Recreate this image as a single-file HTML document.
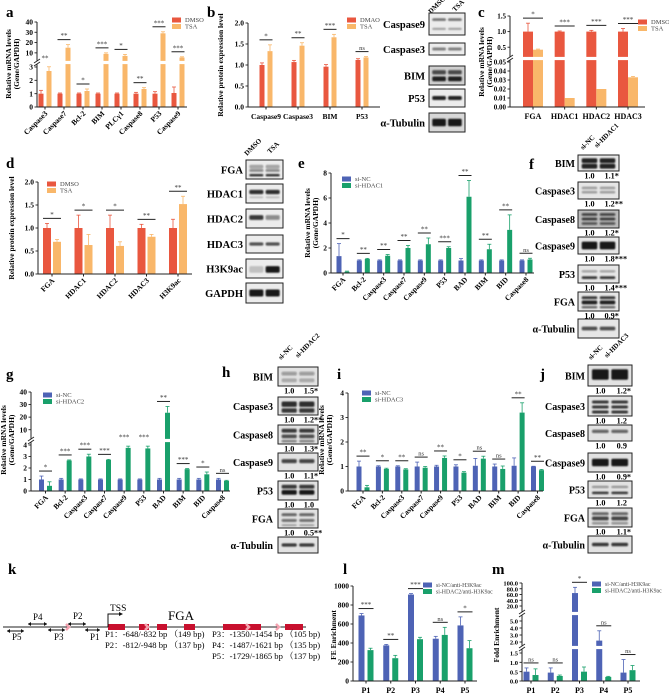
<!DOCTYPE html>
<html><head><meta charset="utf-8"><style>
html,body{margin:0;padding:0;background:#fff;}
svg{display:block;font-family:"Liberation Serif",serif;}
</style></head><body>
<svg id="fig" width="669" height="696" viewBox="0 0 669 696" xmlns="http://www.w3.org/2000/svg"><defs><filter id="bl" x="-20%" y="-50%" width="140%" height="200%"><feGaussianBlur stdDeviation="0.9"/></filter></defs></svg>
<script>
// ---------- data ----------
const aCats=["Caspase3","Caspase7","Bcl-2","BIM","PLCγ1","Caspase8","P53","Caspase9"];
const aDMSO=[1,1,1,1,1,1,1,1.05];
const aTSA=[2.7,15,1.2,9,7,1.35,29,5.5];
const aErr1=[0.25,0.05,0.05,0.05,0.05,0.1,0.15,0.45];
const aErr2=[0.35,3,0.15,1,1.5,0.1,1.5,0.7];
const aSig=["**","**","*","***","*","**","***","***"];
const aTicks=[0,1,2,3,10,20,30,40];

const bCats=["Caspase9","Caspase3","BIM","P53"];
const bDMSO=[1.0,1.07,0.96,1.12];
const bTSA=[1.33,1.46,1.66,1.18];
const bErr1=[0.05,0.04,0.05,0.03];
const bErr2=[0.15,0.07,0.07,0.02];
const bSig=["*","**","***","ns"];
const bTicks=[0,0.5,1,1.5,2];

const cCats=["FGA","HDAC1","HDAC2","HDAC3"];
const cDMSO=[1,1,1,1];
const cTSA=[0.42,0.01,0.02,0.033];
const cErr1=[0.27,0.02,0.04,0.1];
const cErr2=[0.02,0,0,0.001];
const cSig=["*","***","***","***"];
const cTicks=[0,0.01,0.02,0.03,0.04,0.05,0.5,1,1.5];

const dCats=["FGA","HDAC1","HDAC2","HDAC3","H3K9ac"];
const dDMSO=[1,1,1,1,1];
const dTSA=[0.70,0.63,0.61,0.81,1.52];
const dErr1=[0.1,0.28,0.28,0.08,0.19];
const dErr2=[0.05,0.23,0.09,0.05,0.17];
const dSig=["*","*","*","**","**"];
const dTicks=[0,0.5,1,1.5,2];

const eCats=["FGA","Bcl-2","Caspase3","Caspase7","Caspase9","P53","BAD","BIM","BID","Caspase8"];
const eNC=[1.35,1,1,1,1,1,1,1,1,1];
const eSi=[0.1,1.12,1.38,2.0,2.3,2.0,6.1,1.9,3.45,1.08];
const eErr1=[1.0,0.05,0.05,0.05,0.05,0.05,0.15,0.05,0.05,0.05];
const eErr2=[0.05,0.05,0.1,0.2,0.5,0.1,1.3,0.4,1.2,0.1];
const eSig=["*","**","**","**","**","***","**","**","**","ns"];
const eTicks=[0,2,4,6,8];

const gCats=eCats;
const gNC=[1,1,1,1,1,1,1,1,1,1];
const gSi=[0.45,2.65,3.0,2.7,3.75,3.7,23.5,1.9,1.45,0.88];
const gErr1=[0.3,0.1,0.05,0.05,0.05,0.05,0.1,0.1,0.1,0.1];
const gErr2=[0.35,0.05,0.2,0.05,0.15,0.2,5,0.05,0.2,0.05];
const gSig=["*","***","***","***","***","***","**","***","*","ns"];
const gTicks=[0,1,2,3,4,10,20,30,40];

const iCats=eCats;
const iNC=[1,1,1,1,1,1,1.03,1,1.03,1];
const iSi=[0.15,0.9,0.88,0.95,1.35,0.75,1.32,0.9,3.2,0.85];
const iErr1=[0.22,0.03,0.03,0.18,0.05,0.07,0.3,0.1,0.32,0.01];
const iErr2=[0.08,0.03,0.03,0.05,0.08,0.04,0.1,0.12,0.4,0.03];
const iSig=["**","*","**","ns","**","*","ns","ns","**","**"];
const iTicks=[0,1,2,3,4];

const lCats=["P1","P2","P3","P4","P5"];
const lNC=[690,375,910,445,585];
const lSi=[325,240,440,485,345];
const lErr1=[20,10,10,25,90];
const lErr2=[20,30,20,80,80];
const lSig=["***","**","***","ns","*"];
const lTicks=[0,200,400,600,800,1000];

const mCats=lCats;
const mNC=[0.5,0.45,65,2.2,0.45];
const mSi=[0.32,0.27,0.5,0.22,0.58];
const mErr1=[0.2,0.25,20,1.4,0.7];
const mErr2=[0.33,0.05,0.25,0.03,0.25];
const mSig=["ns","ns","*","ns","ns"];
const mTicks=[0,0.5,1,1.5,2,3,4,5,20,40,60,80,100];

const fRows=["BIM","Caspase3","Caspase8","Caspase9","P53","FGA","α-Tubulin"];
const fVals=["1.1*","1.2**","1.2*","1.8***","1.4***","0.9*"];
const hVals=["1.5*","1.2**","1.3*","1.1*","1.0","0.5**"];
const jVals=["1.2*","1.2","0.9","0.9*","1.2","1.1*"];

// ---------- helpers ----------
const NS="http://www.w3.org/2000/svg";
const svg=document.getElementById('fig');
function el(tag,attrs,parent,txt){const e=document.createElementNS(NS,tag);for(const k in attrs)e.setAttribute(k,attrs[k]);if(txt!==undefined)e.textContent=txt;(parent||svg).appendChild(e);return e;}
const RED="#e9573f",ORG="#f9b76a",BLUE="#4e63b5",GRN="#19a06b";

function makeScale(segs){
  return function(v){
    for(let i=0;i<segs.length;i++){const s=segs[i];
      if(v<=s.d1||i===segs.length-1){
        if(v<s.d0&&i>0){const p=segs[i-1];return p.p1+(v-p.d1)/(s.d0-p.d1)*(s.p0-p.p1);}
        return s.p0+(v-s.d0)/(s.d1-s.d0)*(s.p1-s.p0);}
    }
  };
}

function chart(c){
  const g=el('g',{});
  
  
  const y=makeScale(c.segs);
  const y0=c.segs[0].p0, yTop=c.segs[c.segs.length-1].p1;
  const n=c.cats.length;
  const cx=i=>c.c0+i*(c.c1-c.c0)/(n-1);
  for(let i=0;i<n;i++){
    const pairs=[[c.s1[i],c.e1[i],c.col[0],-1],[c.s2[i],c.e2[i],c.col[1],1]];
    pairs.forEach((p,k)=>{
      const x=p[3]<0?cx(i)-c.gap-c.bw:cx(i)+c.gap;
      const top=y(p[0]);
      const r=el('rect',{x:x,y:top,width:c.bw,height:Math.max(0.5,y0-top),fill:p[2]},g);
      
      
      if(p[1]>0){const ye=y(p[0]+p[1]);
        el('line',{x1:x+c.bw/2,x2:x+c.bw/2,y1:top,y2:ye,stroke:p[2],'stroke-width':0.8},g);
        el('line',{x1:x+c.bw/2-2,x2:x+c.bw/2+2,y1:ye,y2:ye,stroke:p[2],'stroke-width':0.8},g);}
    });
    const hi=Math.min(y(c.s1[i]+c.e1[i]),y(c.s2[i]+c.e2[i]));
    const ly=Math.max(yTop-2,hi-5);
    el('line',{x1:cx(i)-c.gap-c.bw,x2:cx(i)+c.gap+c.bw,y1:ly,y2:ly,stroke:'#222','stroke-width':1},g);
    const s=el('text',{x:cx(i),y:ly-1.5,'text-anchor':'middle','font-size':c.sig[i]==='ns'?6.5:7,fill:'#333'},g,c.sig[i]);
    
    
    if(c.rot){
      const lx=cx(i)+3,lyy=y0+7;
      el('text',{x:lx,y:lyy,'text-anchor':'end','font-size':c.catFs||7.5,'font-weight':'bold',transform:`rotate(-45 ${lx} ${lyy})`},g,c.cats[i]);
    } else {
      el('text',{x:cx(i),y:y0+12,'text-anchor':'middle','font-size':c.catFs||8,'font-weight':'bold'},g,c.cats[i]);
    }
    el('line',{x1:cx(i),x2:cx(i),y1:y0,y2:y0+2.5,stroke:'#222','stroke-width':1},g);
  }
  for(let k=0;k<c.segs.length-1;k++){
    const mid=(c.segs[k].p1+c.segs[k+1].p0)/2;
    el('rect',{x:c.ax-1,y:mid-1.6,width:c.x1-c.ax+2,height:3.2,fill:'#fff'},g);
    el('line',{x1:c.ax-3,x2:c.ax+3,y1:mid+0.5,y2:mid-3.5,stroke:'#222','stroke-width':0.9},g);
    el('line',{x1:c.ax-3,x2:c.ax+3,y1:mid+3.5,y2:mid-0.5,stroke:'#222','stroke-width':0.9},g);
  }
  const ax=el('g',{},g);
  
  
  for(let k=0;k<c.segs.length;k++){
    const s=c.segs[k];
    const lo=k>0?(c.segs[k-1].p1+s.p0)/2-1.6:s.p0;
    const hi=k<c.segs.length-1?(s.p1+c.segs[k+1].p0)/2+1.6:s.p1;
    el('line',{x1:c.ax,x2:c.ax,y1:lo,y2:hi,stroke:'#222','stroke-width':1},ax);
  }
  c.ticks.forEach(t=>{const ty=y(t);
    el('line',{x1:c.ax-2.5,x2:c.ax,y1:ty,y2:ty,stroke:'#222','stroke-width':0.9},ax);
    el('text',{x:c.ax-4,y:ty+2.6,'text-anchor':'end','font-size':c.tickFs||7.5,'font-weight':'bold'},ax,c.fmt?c.fmt(t):String(t));
  });
  const xa=el('line',{x1:c.ax,x2:c.x1,y1:y0,y2:y0,stroke:'#222','stroke-width':1},g);
  
  
  const t=el('text',{x:0,y:0,'text-anchor':'middle','font-size':c.ytFs||7.5,'font-weight':'bold',transform:`translate(${c.yt[0]} ${c.yt[1]}) rotate(-90)`},g);
  
  
  c.ytitle.forEach((line,k)=>{el('tspan',{x:0,dy:k?8:0},t,line);});
  c.leg.names.forEach((nm,k)=>{
    const lg=el('g',{},g);
    
    
    el('rect',{x:c.leg.x,y:c.leg.y+k*6.5-2.5,width:9,height:5,fill:c.col[k]},lg);
    el('text',{x:c.leg.x+13,y:c.leg.y+k*6.5+2.2,'font-size':c.leg.fs||6.5,fill:'#444'},lg,nm);
  });
}

function panelLabel(t,x,y){const e=el('text',{x:x,y:y,'font-size':15,'font-weight':'bold'},svg,t);
  }

// bands: [relY, relHeight, opacity, leftLaneFactor]
function blot(name,label,x,y,w,h,lx,bands,fs,bg){
  const g=el('g',{});
  
  
  el('rect',{x:x,y:y,width:w,height:h,fill:bg||'#ececec'},g);
  const bg2=el('g',{filter:'url(#bl)'},g);
  (bands||[[0.5,0.25,0.85]]).forEach(b=>{
    for(const lane of [0.28,0.72]){
      el('rect',{x:x+w*lane-w*0.19,y:y+h*b[0]-h*b[1]/2,width:w*0.38,height:h*b[1],rx:1.5,fill:'#111',opacity:Math.min(1,b[2]*(lane<0.5?(b[3]||1):1))},bg2);
    }
  });
  el('rect',{x:x,y:y,width:w,height:h,fill:'none',stroke:'#222','stroke-width':1},g);
  el('text',{x:lx,y:y+h/2+4,'text-anchor':'end','font-size':fs||10.5,'font-weight':'bold'},g,label);
}
function valText(name,x,w,y,v2){
  const t=el('text',{x:x+w*0.28,y:y,'text-anchor':'middle','font-size':8.2,'font-weight':'bold'},svg,'1.0');
  
  const t2=el('text',{x:x+w*0.72-3,y:y,'font-size':8.2,'font-weight':'bold'},svg,v2);
  
}
function rotLabel(txt,x,y,fs){el('text',{x:x,y:y,'font-size':fs||7,'font-weight':'bold',transform:`rotate(-45 ${x} ${y})`},svg,txt);}

// ---------- charts ----------
const f1=v=>v.toFixed(1), f2=v=>v.toFixed(2);
panelLabel('a',6,17);
chart({name:'chart-a',cats:aCats,s1:aDMSO,s2:aTSA,e1:aErr1,e2:aErr2,sig:aSig,ticks:aTicks,
  segs:[{d0:0,d1:3,p0:107,p1:67},{d0:5,d1:40,p0:58,p1:22}],ax:37,x1:187,c0:45,c1:178,bw:5,gap:1.5,col:[RED,ORG],rot:true,
  yt:[11,64],ytitle:["Relative mRNA levels","(Gene/GAPDH)"],leg:{x:172,y:20,names:["DMSO","TSA"]}});
panelLabel('b',207,17);
chart({name:'chart-b',cats:bCats,s1:bDMSO,s2:bTSA,e1:bErr1,e2:bErr2,sig:bSig,ticks:bTicks,fmt:f1,
  segs:[{d0:0,d1:2,p0:107,p1:23}],ax:248,x1:380,c0:266,c1:362,bw:5,gap:1.5,col:[RED,ORG],rot:false,catFs:7.5,
  yt:[223,65],ytitle:["Relative protein expression level"],leg:{x:347,y:20,names:["DMAO","TSA"]}});
panelLabel('c',478,17);
chart({name:'chart-c',cats:cCats,s1:cDMSO,s2:cTSA,e1:cErr1,e2:cErr2,sig:cSig,ticks:cTicks,fmt:v=>v<0.1?f2(v):f1(v),tickFs:7,
  segs:[{d0:0,d1:0.05,p0:107,p1:62},{d0:0.25,d1:1.5,p0:55,p1:16}],ax:510,x1:645,c0:533,c1:628,bw:10,gap:0,col:[RED,ORG],rot:false,
  yt:[484,62],ytitle:["Relative mRNA levels","(Gene/GAPDH)"],leg:{x:638,y:22,names:["DMSO","TSA"]}});
panelLabel('d',6,168);
chart({name:'chart-d',cats:dCats,s1:dDMSO,s2:dTSA,e1:dErr1,e2:dErr2,sig:dSig,ticks:dTicks,fmt:f1,
  segs:[{d0:0,d1:2,p0:274,p1:182}],ax:38,x1:192,c0:52,c1:178,bw:8,gap:1,col:[RED,ORG],rot:true,
  yt:[14,228],ytitle:["Relative protein expression level"],leg:{x:47,y:184,names:["DMSO","TSA"]}});
panelLabel('e',298,168);
chart({name:'chart-e',cats:eCats,s1:eNC,s2:eSi,e1:eErr1,e2:eErr2,sig:eSig,ticks:eTicks,
  segs:[{d0:0,d1:8,p0:273,p1:173}],ax:331,x1:534,c0:343,c1:526,bw:5,gap:1.5,col:[BLUE,GRN],rot:true,
  yt:[310,223],ytitle:["Relative mRNA levels","(Gene/GAPDH)"],leg:{x:342,y:179,names:["si-NC","si-HDAC1"]}});
panelLabel('g',6,379);
chart({name:'chart-g',cats:gCats,s1:gNC,s2:gSi,e1:gErr1,e2:gErr2,sig:gSig,ticks:gTicks,
  segs:[{d0:0,d1:4,p0:491,p1:445},{d0:5,d1:40,p0:436,p1:392}],ax:31,x1:230,c0:45.5,c1:222.5,bw:5,gap:1.5,col:[BLUE,GRN],rot:true,
  yt:[6,440],ytitle:["Relative mRNA levels","(Gene/GAPDH)"],leg:{x:43,y:395,names:["si-NC","si-HDAC2"]}});
panelLabel('i',337,379);
chart({name:'chart-i',cats:iCats,s1:iNC,s2:iSi,e1:iErr1,e2:iErr2,sig:iSig,ticks:iTicks,
  segs:[{d0:0,d1:4,p0:491,p1:393}],ax:348,x1:543,c0:363,c1:537.5,bw:5,gap:1.5,col:[BLUE,GRN],rot:true,
  yt:[324,440],ytitle:["Relative mRNA levels","(Gene/GAPDH)"],leg:{x:362,y:393,names:["si-NC","si-HDAC3"]}});
panelLabel('l',343,574);
chart({name:'chart-l',cats:lCats,s1:lNC,s2:lSi,e1:lErr1,e2:lErr2,sig:lSig,ticks:lTicks,
  segs:[{d0:0,d1:1000,p0:681,p1:586}],ax:353,x1:477,c0:366,c1:465,bw:6,gap:1.5,col:[BLUE,GRN],rot:false,
  yt:[336,635],ytitle:["FE Enrichment"],leg:{x:423,y:585,names:["si-NC/anti-H3K9ac","si-HDAC2/anti-H3K9ac"],fs:5.8}});
panelLabel('m',492,574);
chart({name:'chart-m',cats:mCats,s1:mNC,s2:mSi,e1:mErr1,e2:mErr2,sig:mSig,ticks:mTicks,fmt:f1,tickFs:6.5,
  segs:[{d0:0,d1:1.5,p0:681,p1:653},{d0:2,d1:5,p0:642,p1:621},{d0:20,d1:100,p0:606,p1:583}],ax:522,x1:640,c0:531,c1:628,bw:6,gap:1.5,col:[BLUE,GRN],rot:false,
  yt:[499,635],ytitle:["Fold Enrichment"],leg:{x:592,y:584,names:["si-NC/anti-H3K9ac","si-HDAC2/anti-H3K9ac"],fs:5.8}});

// ---------- blots ----------
rotLabel('DMSO',431,14,7);rotLabel('TSA',455,12,7);
blot('blot-b-caspase9','Caspase9',429,13,36,22,425,[[0.3,0.12,0.55],[0.72,0.1,0.3]]);
blot('blot-b-caspase3','Caspase3',429,43,36,12,425,[[0.5,0.25,0.5]]);
blot('blot-b-bim','BIM',429,66,36,19,425,[[0.33,0.22,0.7],[0.68,0.25,0.9]],undefined,'#cfcfcf');
blot('blot-b-p53','P53',429,89,36,18,425,[[0.5,0.22,0.9]]);
blot('blot-b-tubulin','α-Tubulin',429,113,36,19,425,[[0.5,0.4,0.95]],undefined,'#d8d8d8');

rotLabel('DMSO',247,156,7);rotLabel('TSA',270,154,7);
blot('blot-d-fga','FGA',246,160,37,19,243,[[0.35,0.2,0.3],[0.55,0.15,0.45],[0.8,0.12,0.85]]);
blot('blot-d-hdac1','HDAC1',246,184,37,19,243,[[0.42,0.22,0.85],[0.7,0.1,0.2]]);
blot('blot-d-hdac2','HDAC2',246,209,37,19,243,[[0.45,0.25,0.45,1.8]]);
blot('blot-d-hdac3','HDAC3',246,235,37,18,243,[[0.5,0.18,0.7]]);
blot('blot-d-h3k9ac','H3K9ac',246,259,37,19,243,[[0.55,0.35,0.95,0.2]]);
blot('blot-d-gapdh','GAPDH',246,283,37,20,243,[[0.5,0.35,0.95]]);

const fB=[
 [[0.35,0.3,0.9],[0.7,0.3,0.9]],
 [[0.35,0.15,0.3],[0.6,0.15,0.3]],
 [[0.25,0.15,0.7],[0.5,0.15,0.75],[0.75,0.15,0.6]],
 [[0.5,0.45,0.95]],
 [[0.35,0.12,0.35],[0.7,0.15,0.8]],
 [[0.3,0.15,0.8],[0.55,0.2,0.9],[0.8,0.12,0.6]],
 [[0.5,0.2,0.7]]];
panelLabel('f',529,169);
rotLabel('si-NC',583,150,7);rotLabel('si-HDAC1',597,148,7);
const fY=[155,182,210,237,265,292,319], fH=[16,17,18,17,18,19,19];
fRows.forEach((r,k)=>{blot('blot-f-'+k,r,578,fY[k],41,fH[k],575,fB[k],10,k===2?'#bbb':'#e6e6e6');
  if(k<6)valText('blot-f-quant-'+k,578,41,fY[k]+fH[k]+7.5,fVals[k]);});

const hB=[
 [[0.35,0.2,0.35],[0.7,0.2,0.25]],
 [[0.4,0.3,0.85],[0.75,0.25,0.8]],
 [[0.3,0.2,0.8],[0.6,0.2,0.7],[0.85,0.12,0.5]],
 [[0.45,0.22,0.75]],
 [[0.3,0.2,0.8],[0.6,0.25,0.95]],
 [[0.3,0.15,0.6],[0.6,0.15,0.55],[0.85,0.1,0.3]],
 [[0.5,0.2,0.8]]];
panelLabel('h',222,377);
rotLabel('si-NC',281,360,7);rotLabel('si-HDAC2',298,358,7);
const hY=[367,397,425,453,481,509,537], hH=[19,18,19,18,19,19,16];
fRows.forEach((r,k)=>{blot('blot-h-'+k,r,278,hY[k],40,hH[k],273,hB[k],10,'#e2e2e2');
  if(k<6)valText('blot-h-quant-'+k,278,40,hY[k]+hH[k]+7.5,hVals[k]);});

const jB=[
 [[0.45,0.5,0.95]],
 [[0.3,0.15,0.8],[0.55,0.15,0.8],[0.8,0.15,0.8]],
 [[0.4,0.2,0.6]],
 [[0.5,0.4,0.95]],
 [[0.35,0.12,0.4],[0.7,0.15,0.8]],
 [[0.3,0.15,0.6],[0.55,0.2,0.75],[0.8,0.12,0.4]],
 [[0.5,0.2,0.8]]];
panelLabel('j',540,379);
rotLabel('si-NC',591,360,7);rotLabel('si-HDAC3',607,358,7);
const jY=[365,396,425,453,481,508,536], jH=[21,20,16,19,17,19,17];
fRows.forEach((r,k)=>{blot('blot-j-'+k,r,588,jY[k],44,jH[k],585,jB[k],10,'#e2e2e2');
  if(k<6)valText('blot-j-quant-'+k,588,44,jY[k]+jH[k]+7.5,jVals[k]);});

// ---------- panel k ----------
panelLabel('k',8,574);
const kg=el('g',{});


el('line',{x1:3,x2:306,y1:627,y2:627,stroke:'#222','stroke-width':1},kg);
[[108,125],[139,149],[157,167],[184,195],[223,261],[285,303]].forEach(e=>el('rect',{x:e[0],y:624,width:e[1]-e[0],height:6,fill:'#c8102e'},kg));
[[66,624],[145,624],[246,624],[276,624]].forEach(p=>el('path',{d:`M${p[0]} ${p[1]} l3 3 l-3 3`,stroke:'#f4a3b0','stroke-width':2.5,fill:'none'},kg));
el('path',{d:'M108 627 V614 H121',stroke:'#111','stroke-width':1,fill:'none'},kg);
el('path',{d:'M119 612 l4 2 l-4 2 z',fill:'#111'},kg);
el('text',{x:110,y:611,'font-size':9.5},kg,'TSS');
el('text',{x:168,y:620,'font-size':13},kg,'FGA');
[[7,24,631,'P5',12,640],[28,47,624,'P4',33,620],[48,65,630,'P3',54,640],[68,86,624,'P2',73,619],[85,100,630,'P1',90,640]].forEach(p=>{
  el('line',{x1:p[0],x2:p[1],y1:p[2],y2:p[2],stroke:'#111','stroke-width':1},kg);
  el('path',{d:`M${p[0]} ${p[2]} l3 -2 v4 z M${p[1]} ${p[2]} l-3 -2 v4 z`,fill:'#111'},kg);
  el('text',{x:p[4],y:p[5],'font-size':9},kg,p[3]);
});
[["P1：-648/-832 bp （149 bp)",105,637],["P2：-812/-948 bp （137 bp)",105,648],
 ["P3：-1350/-1454 bp （105 bp)",212,637],["P4：-1487/-1621 bp （135 bp)",212,648],["P5：-1729/-1865 bp （137 bp)",212,659]].forEach(t=>{
  el('text',{x:t[1],y:t[2],'font-size':8.6,'font-family':'"Liberation Serif","Noto Serif CJK SC",serif'},kg,t[0]);
});
</script>
</body></html>
